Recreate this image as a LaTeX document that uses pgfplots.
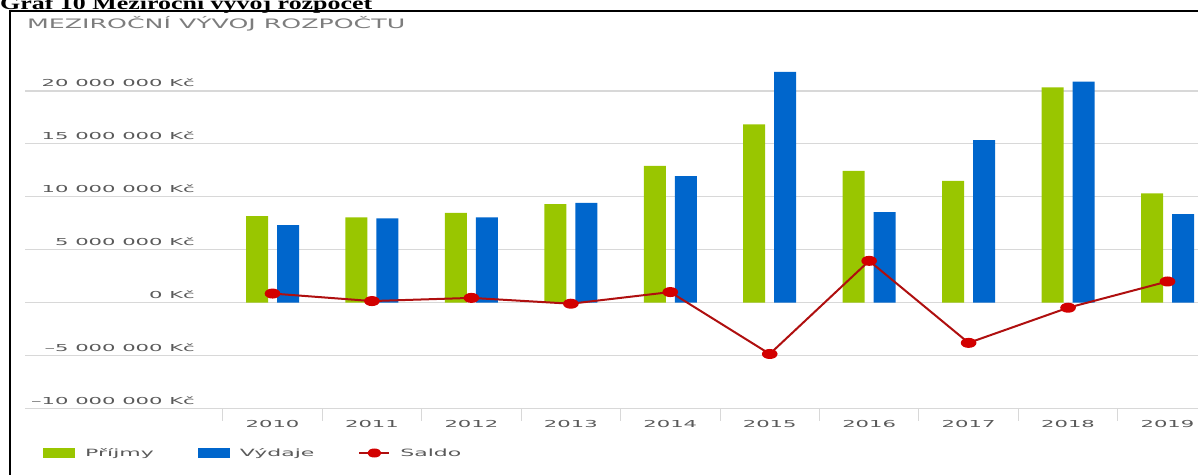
\documentclass[border=0pt]{standalone}
\usepackage{pgfplots}
\pgfplotsset{compat=1.18}
\usepackage{graphicx}
\usepackage{fontspec}
\setmainfont{DejaVu Sans}
\newfontfamily\headfont{Liberation Serif}
\definecolor{prijmy}{RGB}{153,198,0}
\definecolor{vydaje}{RGB}{0,102,204}
\definecolor{saldored}{RGB}{210,0,0}
\definecolor{saldoline}{RGB}{175,15,15}
\definecolor{gridgray}{RGB}{216,216,216}
\definecolor{labelgray}{RGB}{90,90,90}
\definecolor{titlegray}{RGB}{125,125,125}
\newcommand\sx[1]{\scalebox{2.2}[1]{#1}}

\begin{document}
\begin{tikzpicture}
\useasboundingbox (0pt,0pt) rectangle (1198pt,474pt);
% page header, cut off at the top
\node[anchor=base west, inner sep=0pt] at (0pt,464pt)
  {\resizebox{372pt}{\height}{\headfont\bfseries\fontsize{18}{20}\selectfont Graf 10 Meziroční vývoj rozpočet}};
\draw[line width=1.5pt] (10pt,-5pt) -- (10pt,463pt) -- (1210pt,463pt);
\node[anchor=base west, inner sep=0pt, text=titlegray] at (27pt,445.7pt)
  {\resizebox{378pt}{\height}{\fontsize{13}{15}\selectfont MEZIROČNÍ VÝVOJ ROZPOČTU}};

\begin{axis}[
  at={(25pt,65.5pt)}, anchor=south west,
  scale only axis, width=1192.3pt, height=349.3pt,
  xmin=-2.489, xmax=9.5,
  ymin=-10000000, ymax=23000000,
  axis line style={draw=none},
  scaled y ticks=false,
  ytick={-10000000,-5000000,0,5000000,10000000,15000000,20000000},
  yticklabels={\sx{–10 000 000 Kč},\sx{–5 000 000 Kč},\sx{0 Kč},\sx{5 000 000 Kč},\sx{10 000 000 Kč},\sx{15 000 000 Kč},\sx{20 000 000 Kč}},
  ymajorgrids,
  grid style={gridgray, line width=1.2pt},
  xtick={0,...,9},
  xticklabels={\sx{2010},\sx{2011},\sx{2012},\sx{2013},\sx{2014},\sx{2015},\sx{2016},\sx{2017},\sx{2018},\sx{2019}},
  minor xtick={-0.5,0.5,...,9.5},
  xtick pos=lower, ytick pos=left,
  major tick length=0pt, minor tick length=12pt, tick align=outside,
  minor x tick style={gridgray, line width=1pt},
  yticklabel style={anchor=base east, inner sep=0pt, xshift=170pt, yshift=4pt,
    text=labelgray, font=\fontsize{9.6}{11}\selectfont},
  xticklabel style={anchor=north, inner sep=0pt, yshift=-12pt,
    text=labelgray, font=\fontsize{9.6}{11}\selectfont},
  legend columns=-1,
  legend style={at={(axis description cs:0,0)}, anchor=west, xshift=18pt, yshift=-44.5pt,
    draw=none, fill=none, inner sep=0pt,
    nodes={inner sep=0pt, anchor=west, text=labelgray, font=\fontsize{10}{12}\selectfont},
    /tikz/every even column/.append style={column sep=44pt},
    /tikz/every odd column/.append style={column sep=10pt}},
]
\addplot[ybar, bar width=22pt, bar shift=-15.5pt, fill=prijmy, draw=none,
  legend image code/.code={\fill[prijmy] (0pt,-5pt) rectangle (32pt,5pt);}]
  coordinates {(0,8180000) (1,8050000) (2,8490000) (3,9310000) (4,12930000)
               (5,16840000) (6,12460000) (7,11510000) (8,20340000) (9,10320000)};
\addplot[ybar, bar width=22pt, bar shift=15.5pt, fill=vydaje, draw=none,
  legend image code/.code={\fill[vydaje] (0pt,-5pt) rectangle (32pt,5pt);}]
  coordinates {(0,7330000) (1,7960000) (2,8050000) (3,9430000) (4,11960000)
               (5,21800000) (6,8550000) (7,15360000) (8,20870000) (9,8360000)};
\addplot[saldoline, line width=2pt, mark=*, mark size=4pt,
  mark options={fill=saldored, draw=saldored, xscale=1.7},
  legend image code/.code={\draw[saldoline, line width=2pt] (0pt,0pt) -- (30pt,0pt);
    \fill[saldored] (15pt,0pt) ellipse (6pt and 3.5pt);}]
  coordinates {(0,860000) (1,150000) (2,450000) (3,-100000) (4,1000000)
               (5,-4850000) (6,3950000) (7,-3800000) (8,-480000) (9,2000000)};
\legend{\sx{Příjmy},\sx{Výdaje},\sx{Saldo}}
\end{axis}
\end{tikzpicture}
\end{document}
